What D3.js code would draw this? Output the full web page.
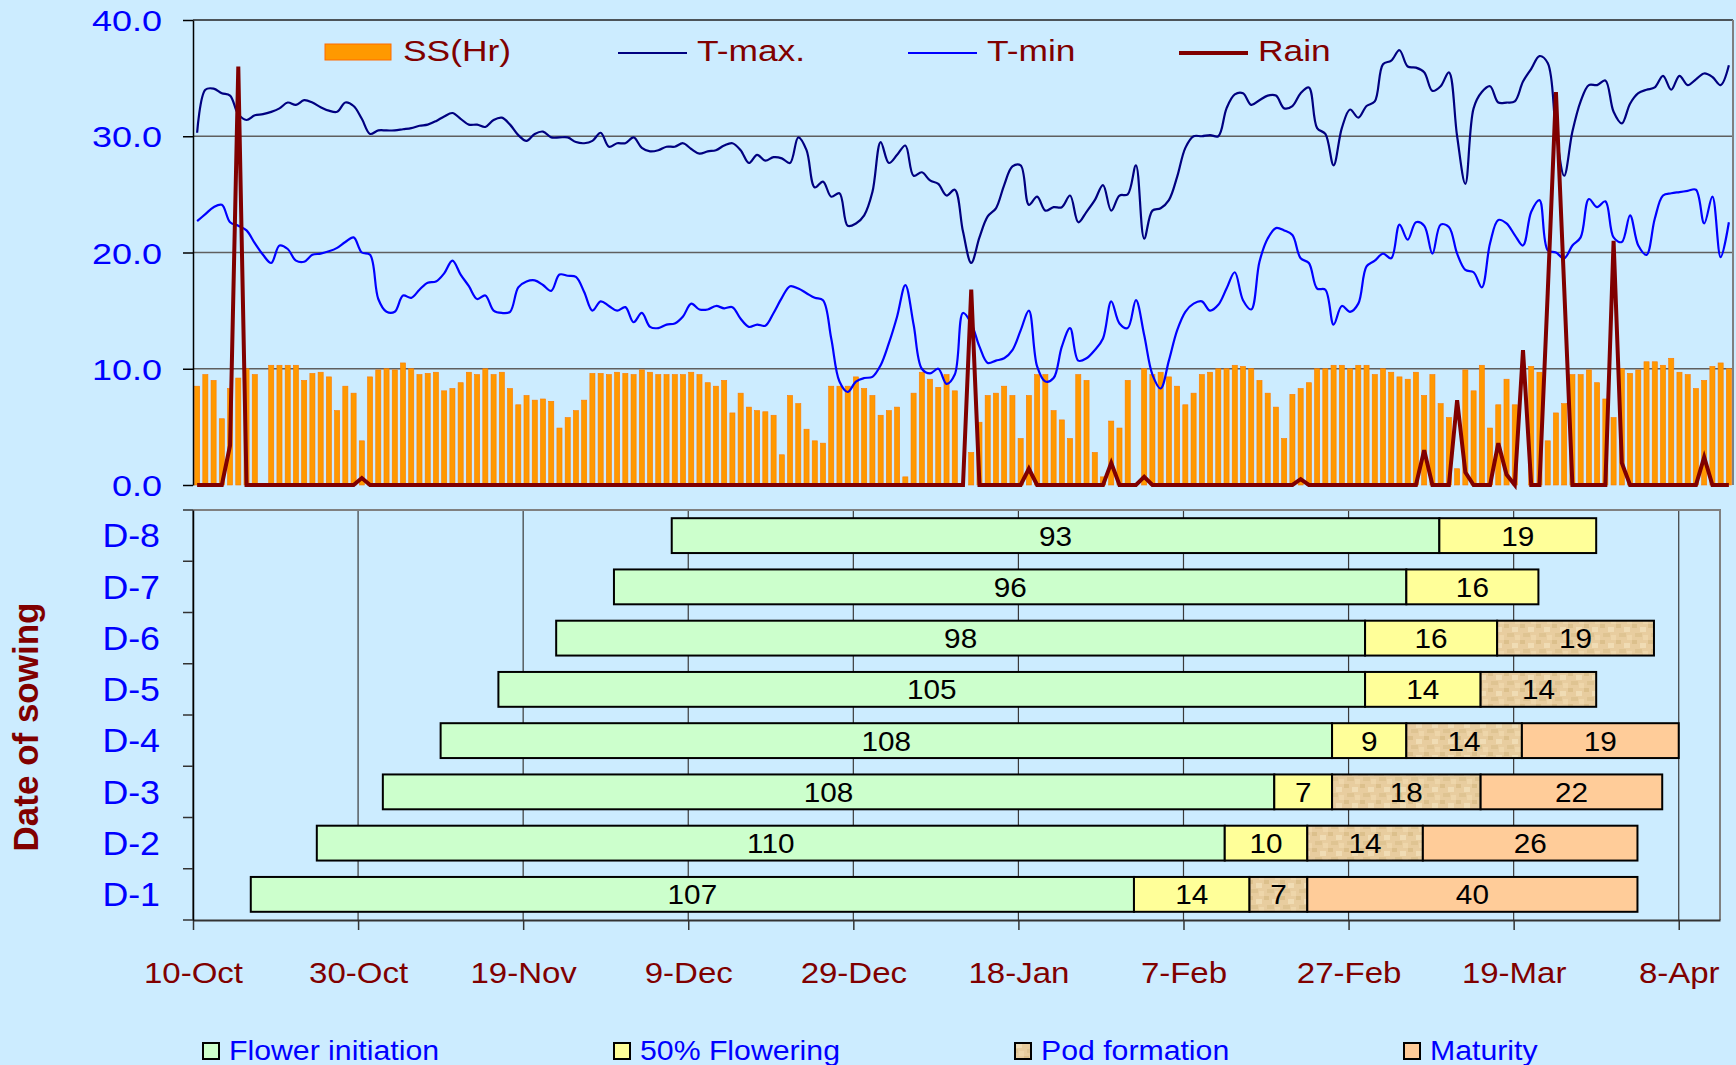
<!DOCTYPE html>
<html>
<head>
<meta charset="utf-8">
<script src="https://cdn.jsdelivr.net/npm/d3@7"></script>
<style>
  body { margin: 0; background: #ccecff; }
  svg { display: block; font-family: "Liberation Sans", Arial, sans-serif; }
</style>
</head>
<body>
<svg id="chart" width="1736" height="1065"></svg>
<script>
// daily weather, 10-Oct to 14-Apr (one value per day)
const ssHours = [
  8.5, 9.5, 9.0, 5.7, 8.3, 9.2, 10.0, 9.5, 0, 10.3,
  10.3, 10.3, 10.3, 9.0, 9.6, 9.7, 9.3, 6.4, 8.5, 7.9,
  3.8, 9.3, 9.9, 10.0, 9.9, 10.5, 10.0, 9.5, 9.6, 9.7,
  8.1, 8.3, 8.8, 9.7, 9.5, 10.0, 9.5, 9.7, 8.3, 6.9,
  7.7, 7.3, 7.4, 7.2, 4.9, 5.8, 6.4, 7.3, 9.6, 9.6,
  9.5, 9.7, 9.6, 9.5, 9.9, 9.7, 9.5, 9.5, 9.5, 9.5,
  9.7, 9.5, 8.8, 8.5, 9.0, 6.2, 7.9, 6.7, 6.4, 6.3,
  6.0, 2.6, 7.7, 7.0, 4.8, 3.8, 3.6, 8.5, 8.5, 8.5,
  9.3, 8.3, 7.7, 6.0, 6.4, 6.7, 0.7, 7.9, 9.7, 9.1,
  8.4, 9.5, 8.1, 0, 2.8, 5.4, 7.7, 7.9, 8.5, 7.7,
  4.0, 7.7, 9.5, 9.5, 6.4, 5.6, 4.0, 9.5, 9.0, 2.8,
  0.7, 5.5, 4.9, 9.0, 0, 10.0, 9.5, 9.7, 9.3, 8.5,
  6.9, 7.9, 9.5, 9.7, 10.0, 10.0, 10.3, 10.2, 10.0, 9.0,
  7.9, 6.7, 4.0, 7.8, 8.3, 8.8, 10.0, 10.0, 10.3, 10.3,
  10.0, 10.3, 10.3, 9.5, 10.0, 9.7, 9.3, 9.1, 9.7, 7.7,
  9.5, 7.0, 5.8, 1.4, 9.9, 8.1, 10.3, 4.9, 6.9, 9.1,
  6.9, 0, 10.2, 9.7, 3.8, 6.2, 7.0, 9.5, 9.5, 9.9,
  8.8, 7.4, 5.8, 10.0, 9.6, 9.9, 10.6, 10.6, 10.3, 10.9,
  9.7, 9.5, 8.3, 9.0, 10.2, 10.5, 10.0
];
const tMax = [
  30.3, 34.0, 34.1, 33.7, 33.5, 31.9, 31.4, 31.8, 31.9, 32.1,
  32.4, 32.9, 32.7, 33.1, 32.9, 32.5, 32.2, 32.1, 32.9, 32.6,
  31.5, 30.2, 30.5, 30.5, 30.5, 30.6, 30.7, 30.9, 31.0, 31.3,
  31.7, 32.0, 31.5, 31.0, 31.0, 30.8, 31.4, 31.6, 31.0, 30.1,
  29.6, 30.2, 30.4, 29.9, 29.9, 29.9, 29.5, 29.4, 29.6, 30.3,
  29.1, 29.4, 29.4, 29.9, 29.0, 28.7, 28.8, 29.1, 29.1, 29.4,
  28.9, 28.5, 28.7, 28.8, 29.2, 29.4, 28.8, 27.7, 28.4, 27.9,
  28.2, 28.1, 27.7, 29.9, 28.8, 25.6, 26.1, 24.8, 25.1, 22.3,
  22.5, 23.2, 25.2, 29.5, 27.7, 28.4, 29.2, 26.6, 26.9, 26.2,
  25.9, 24.9, 25.4, 21.8, 19.1, 21.3, 23.1, 23.8, 25.8, 27.4,
  27.5, 24.1, 24.8, 23.6, 23.9, 23.9, 24.9, 22.6, 23.5, 24.5,
  25.8, 23.6, 24.9, 25.0, 27.5, 21.2, 23.6, 23.8, 24.5, 26.5,
  29.0, 30.0, 30.0, 30.1, 30.0, 32.4, 33.6, 33.7, 32.7, 33.1,
  33.5, 33.5, 32.4, 32.6, 33.7, 34.2, 30.7, 30.2, 27.5, 30.7,
  32.3, 31.6, 32.6, 33.0, 36.2, 36.5, 37.4, 36.0, 35.9, 35.5,
  33.9, 34.3, 35.5, 30.0, 25.9, 32.4, 33.8, 34.3, 32.9, 32.9,
  33.0, 34.7, 35.8, 36.9, 36.3, 30.5, 26.6, 30.4, 33.0, 34.4,
  34.4, 34.8, 32.1, 31.1, 32.8, 33.7, 34.0, 34.2, 35.2, 34.0,
  35.2, 34.4, 34.9, 35.4, 35.1, 34.4, 36.1
];
const tMin = [
  22.7, 23.3, 23.9, 24.1, 22.6, 22.3, 21.9, 20.8, 19.8, 19.1,
  20.6, 20.3, 19.3, 19.2, 19.8, 19.9, 20.1, 20.4, 20.9, 21.3,
  20.0, 19.8, 16.0, 14.9, 14.9, 16.3, 16.1, 16.8, 17.4, 17.5,
  18.2, 19.3, 18.1, 17.1, 16.0, 16.3, 15.0, 14.8, 14.9, 17.0,
  17.5, 17.6, 17.2, 16.7, 18.1, 18.0, 17.9, 16.6, 15.0, 15.8,
  15.4, 15.0, 15.3, 14.0, 14.8, 13.6, 13.5, 13.8, 13.9, 14.5,
  15.6, 15.1, 15.1, 15.4, 15.2, 15.3, 14.3, 13.6, 13.8, 13.7,
  14.8, 16.1, 17.1, 16.9, 16.5, 16.1, 15.9, 12.6, 8.9, 8.0,
  8.9, 9.2, 9.3, 10.3, 12.2, 14.5, 17.2, 13.8, 10.0, 9.6,
  10.0, 8.7, 9.5, 14.8, 13.9, 11.9, 10.5, 10.7, 10.9, 11.6,
  13.3, 15.0, 10.2, 8.9, 9.2, 11.9, 13.5, 10.7, 10.9, 11.6,
  12.6, 15.8, 13.9, 13.5, 15.9, 12.9, 9.5, 8.3, 10.7, 13.3,
  14.9, 15.6, 15.8, 15.0, 15.5, 16.9, 18.3, 15.9, 15.1, 19.2,
  21.2, 22.1, 21.9, 21.5, 19.5, 19.1, 16.9, 16.8, 13.8, 15.4,
  14.9, 15.6, 18.8, 19.3, 19.9, 19.5, 22.4, 21.1, 22.6, 22.3,
  19.9, 22.4, 22.2, 19.9, 18.5, 18.3, 17.0, 20.8, 22.8, 22.5,
  21.5, 20.6, 23.5, 24.5, 20.2, 20.0, 19.5, 20.6, 21.3, 24.6,
  23.9, 24.4, 21.3, 20.9, 23.2, 20.6, 19.8, 22.9, 24.9, 25.1,
  25.2, 25.3, 25.4, 22.5, 24.8, 19.6, 22.6
];
const rain = [
  0, 0, 0, 0, 3.4, 36.0, 0, 0, 0, 0,
  0, 0, 0, 0, 0, 0, 0, 0, 0, 0,
  0.6, 0, 0, 0, 0, 0, 0, 0, 0, 0,
  0, 0, 0, 0, 0, 0, 0, 0, 0, 0,
  0, 0, 0, 0, 0, 0, 0, 0, 0, 0,
  0, 0, 0, 0, 0, 0, 0, 0, 0, 0,
  0, 0, 0, 0, 0, 0, 0, 0, 0, 0,
  0, 0, 0, 0, 0, 0, 0, 0, 0, 0,
  0, 0, 0, 0, 0, 0, 0, 0, 0, 0,
  0, 0, 0, 0, 16.8, 0, 0, 0, 0, 0,
  0, 1.4, 0, 0, 0, 0, 0, 0, 0, 0,
  0, 1.9, 0, 0, 0, 0.7, 0, 0, 0, 0,
  0, 0, 0, 0, 0, 0, 0, 0, 0, 0,
  0, 0, 0, 0, 0.5, 0, 0, 0, 0, 0,
  0, 0, 0, 0, 0, 0, 0, 0, 0, 3.0,
  0, 0, 0, 7.3, 1.1, 0, 0, 0, 3.6, 0.9,
  0, 11.6, 0, 0, 16.5, 33.8, 17.0, 0, 0, 0,
  0, 0, 21.0, 1.9, 0, 0, 0, 0, 0, 0,
  0, 0, 0, 2.4, 0, 0, 0
];
const yTopTicks = [0, 10, 20, 30, 40];

// crop phases per date of sowing (days)
const sowingLabels = ["D-1", "D-2", "D-3", "D-4", "D-5", "D-6", "D-7", "D-8"];
const sowingDates = ["2008-10-17", "2008-10-25", "2008-11-02", "2008-11-09", "2008-11-16", "2008-11-23", "2008-11-30", "2008-12-07"];
const flowerInitiation = [107, 110, 108, 108, 105, 98, 96, 93];
const fiftyFlowering = [14, 10, 7, 9, 14, 16, 16, 19];
const podFormation = [7, 14, 18, 14, 14, 19, 0, 0];
const maturity = [40, 26, 22, 19, 0, 0, 0, 0];
const phaseNames = ["Flower initiation", "50% Flowering", "Pod formation", "Maturity"];
const dateTicks = ["2008-10-10", "2008-10-30", "2008-11-19", "2008-12-09", "2008-12-29", "2009-01-18", "2009-02-07", "2009-02-27", "2009-03-19", "2009-04-08"];
const dateRange = ["2008-10-10", "2009-04-13"];

const svg = d3.select("#chart");
const stretchTop = 1.22;
const stretchBot = 1.1;
const parseDate = d3.utcParse("%Y-%m-%d");

function addText(parent, x, y, str, size, color, sx, anchor = "start") {
  return parent
    .append("text")
    .attr("transform", `translate(${x},${y}) scale(${sx},1)`)
    .attr("text-anchor", anchor)
    .attr("font-size", size)
    .attr("fill", color)
    .text(str);
}

const defs = svg.append("defs");
const pod = defs
  .append("pattern")
  .attr("id", "podTexture")
  .attr("patternUnits", "userSpaceOnUse")
  .attr("width", 16)
  .attr("height", 16);
pod.append("rect").attr("width", 16).attr("height", 16).attr("fill", "#e8cd9f");
[
  [0, 0, 5, 4, "#dcc08c"],
  [8, 3, 6, 5, "#f0dcb4"],
  [3, 9, 7, 4, "#dfc492"],
  [11, 11, 5, 5, "#eed6aa"],
].forEach(([x, y, w, h, c]) =>
  pod.append("rect").attr("x", x).attr("y", y).attr("width", w).attr("height", h).attr("fill", c)
);
const phaseColors = ["#ccffcc", "#ffff99", "url(#podTexture)", "#ffcc99"];

// ---------- top chart: weather ----------
const topBox = { left: 193, right: 1733, top: 20, bottom: 485 };

const xTop = d3
  .scaleBand()
  .domain(d3.range(ssHours.length))
  .range([topBox.left, topBox.right])
  .paddingInner(0.38)
  .paddingOuter(0.19);

const yTop = d3.scaleLinear().domain([0, 40]).range([topBox.bottom, topBox.top]);

svg
  .append("g")
  .selectAll("line")
  .data(yTopTicks.slice(1, -1))
  .join("line")
  .attr("x1", topBox.left)
  .attr("x2", topBox.right)
  .attr("y1", (d) => yTop(d))
  .attr("y2", (d) => yTop(d))
  .attr("stroke", "#5f5f5f")
  .attr("stroke-width", 1.5);

svg
  .append("line")
  .attr("x1", topBox.left)
  .attr("x2", topBox.right)
  .attr("y1", yTop(40))
  .attr("y2", yTop(40))
  .attr("stroke", "#222")
  .attr("stroke-width", 1.5);

svg
  .append("line")
  .attr("x1", topBox.right)
  .attr("x2", topBox.right)
  .attr("y1", topBox.top)
  .attr("y2", topBox.bottom)
  .attr("stroke", "#7f7f7f")
  .attr("stroke-width", 2);

svg
  .append("g")
  .selectAll("rect")
  .data(ssHours)
  .join("rect")
  .attr("x", (d, i) => xTop(i))
  .attr("y", (d) => yTop(d))
  .attr("width", xTop.bandwidth())
  .attr("height", (d) => yTop(0) - yTop(d))
  .attr("fill", "#ff9900")
  .attr("stroke", "#ff7a00")
  .attr("stroke-width", 0.6);

const dayX = (d, i) => xTop(i) + xTop.bandwidth() / 2;
const smoothLine = d3.line().x(dayX).y((d) => yTop(d)).curve(d3.curveCatmullRom.alpha(0.5));
const straightLine = d3.line().x(dayX).y((d) => yTop(d));

svg
  .append("path")
  .datum(tMax)
  .attr("d", smoothLine)
  .attr("fill", "none")
  .attr("stroke", "#000080")
  .attr("stroke-width", 2.2);

svg
  .append("path")
  .datum(tMin)
  .attr("d", smoothLine)
  .attr("fill", "none")
  .attr("stroke", "#0000ff")
  .attr("stroke-width", 2.2);

svg
  .append("path")
  .datum(rain)
  .attr("d", straightLine)
  .attr("fill", "none")
  .attr("stroke", "#800000")
  .attr("stroke-width", 4);

svg
  .append("g")
  .attr("transform", `translate(${topBox.left},0)`)
  .call(
    d3
      .axisLeft(yTop)
      .tickValues(yTopTicks)
      .tickFormat(d3.format(".1f"))
      .tickSize(10)
      .tickSizeOuter(0)
  )
  .call((g) => {
    g.select(".domain").attr("stroke", "#000").attr("stroke-width", 1.5);
    g.selectAll(".tick line").attr("stroke", "#000").attr("stroke-width", 1.5);
    g.selectAll("text")
      .attr("x", -31 / stretchTop)
      .attr("dy", "0.36em")
      .attr("transform", `scale(${stretchTop},1)`)
      .attr("font-size", 29.5)
      .attr("fill", "#0000ff");
  })
  .attr("font-family", null);

// top legend
const legTop = svg.append("g");
legTop
  .append("rect")
  .attr("x", 325)
  .attr("y", 44)
  .attr("width", 66)
  .attr("height", 16)
  .attr("fill", "#ff9900")
  .attr("stroke", "#ff6a00");
addText(legTop, 403, 61, "SS(Hr)", 29, "#800000", stretchTop);
[
  { name: "T-max.", x: 618, color: "#000080", width: 2.2 },
  { name: "T-min", x: 908, color: "#0000ff", width: 2.2 },
  { name: "Rain", x: 1179, color: "#800000", width: 4 },
].forEach((d) => {
  legTop
    .append("line")
    .attr("x1", d.x)
    .attr("x2", d.x + 69)
    .attr("y1", 53)
    .attr("y2", 53)
    .attr("stroke", d.color)
    .attr("stroke-width", d.width);
  addText(legTop, d.x + 79, 61, d.name, 29, "#800000", stretchTop);
});

// ---------- bottom chart: phenology ----------
const botBox = { left: 193, right: 1720, top: 510, bottom: 920 };

const xDate = d3
  .scaleUtc()
  .domain(dateRange.map(parseDate))
  .range([botBox.left, botBox.right]);

const yBot = d3
  .scaleBand()
  .domain(sowingLabels.slice().reverse())
  .range([botBox.top, botBox.bottom])
  .paddingInner(0.32)
  .paddingOuter(0.16);

const tickDates = dateTicks.map(parseDate);

svg
  .append("g")
  .selectAll("line")
  .data(tickDates)
  .join("line")
  .attr("x1", (d) => xDate(d))
  .attr("x2", (d) => xDate(d))
  .attr("y1", botBox.top)
  .attr("y2", botBox.bottom)
  .attr("stroke", "#3a3a3a")
  .attr("stroke-width", 1.2);

svg
  .append("path")
  .attr("d", `M${botBox.left},${botBox.top}H${botBox.right}V${botBox.bottom}`)
  .attr("fill", "none")
  .attr("stroke", "#808080")
  .attr("stroke-width", 2);

const segments = sowingLabels.flatMap((label, r) => {
  const durations = [flowerInitiation[r], fiftyFlowering[r], podFormation[r], maturity[r]];
  const start = parseDate(sowingDates[r]);
  const ends = d3.cumsum(durations);
  return durations
    .map((days, p) => ({
      label,
      phase: p,
      days,
      from: d3.utcDay.offset(start, ends[p] - days),
      to: d3.utcDay.offset(start, ends[p]),
    }))
    .filter((s) => s.days > 0);
});

const segG = svg.append("g");
segG
  .selectAll("rect")
  .data(segments)
  .join("rect")
  .attr("x", (d) => xDate(d.from))
  .attr("y", (d) => yBot(d.label))
  .attr("width", (d) => xDate(d.to) - xDate(d.from))
  .attr("height", yBot.bandwidth())
  .attr("fill", (d) => phaseColors[d.phase])
  .attr("stroke", "#000")
  .attr("stroke-width", 2);

segments.forEach((d) => {
  addText(
    segG,
    (xDate(d.from) + xDate(d.to)) / 2,
    yBot(d.label) + yBot.bandwidth() / 2 + 10,
    d.days,
    27,
    "#000",
    stretchBot,
    "middle"
  );
});

// x axis
svg
  .append("g")
  .attr("transform", `translate(0,${botBox.bottom})`)
  .call(
    d3
      .axisBottom(xDate)
      .tickValues(tickDates)
      .tickFormat(d3.utcFormat("%-d-%b"))
      .tickSize(10)
      .tickSizeOuter(0)
      .tickPadding(32)
  )
  .call((g) => {
    g.select(".domain").attr("stroke", "#333").attr("stroke-width", 2);
    g.selectAll(".tick line").attr("stroke", "#333").attr("stroke-width", 1.5);
    g.selectAll("text")
      .attr("transform", `scale(${stretchBot},1)`)
      .attr("font-size", 30)
      .attr("fill", "#800000");
  })
  .attr("font-family", null);

// y axis
svg
  .append("g")
  .attr("transform", `translate(${botBox.left},0)`)
  .call(d3.axisLeft(yBot).tickSize(0).tickSizeOuter(0))
  .call((g) => {
    g.select(".domain").attr("stroke", "#000").attr("stroke-width", 1.5);
    g.selectAll("text")
      .attr("x", -33 / stretchBot)
      .attr("dy", "0.36em")
      .attr("transform", `scale(${stretchBot},1)`)
      .attr("font-size", 32.5)
      .attr("fill", "#0000ff");
  })
  .attr("font-family", null);

svg
  .append("g")
  .selectAll("line")
  .data(d3.range(sowingLabels.length + 1))
  .join("line")
  .attr("x1", botBox.left - 10)
  .attr("x2", botBox.left)
  .attr("y1", (k) => botBox.top + k * yBot.step())
  .attr("y2", (k) => botBox.top + k * yBot.step())
  .attr("stroke", "#333")
  .attr("stroke-width", 1.5);

svg
  .append("text")
  .attr("transform", "translate(38,727) rotate(-90)")
  .attr("text-anchor", "middle")
  .attr("font-weight", "bold")
  .attr("font-size", 35)
  .attr("fill", "#800000")
  .text("Date of sowing");

// bottom legend
const legBot = svg.append("g");
const legX = [203, 614, 1015, 1404];
phaseNames.forEach((name, p) => {
  legBot
    .append("rect")
    .attr("x", legX[p])
    .attr("y", 1043)
    .attr("width", 16)
    .attr("height", 16)
    .attr("fill", phaseColors[p])
    .attr("stroke", "#000")
    .attr("stroke-width", 2);
  addText(legBot, legX[p] + 26, 1060, name, 27.5, "#0000ff", stretchBot);
});
</script>
</body>
</html>
